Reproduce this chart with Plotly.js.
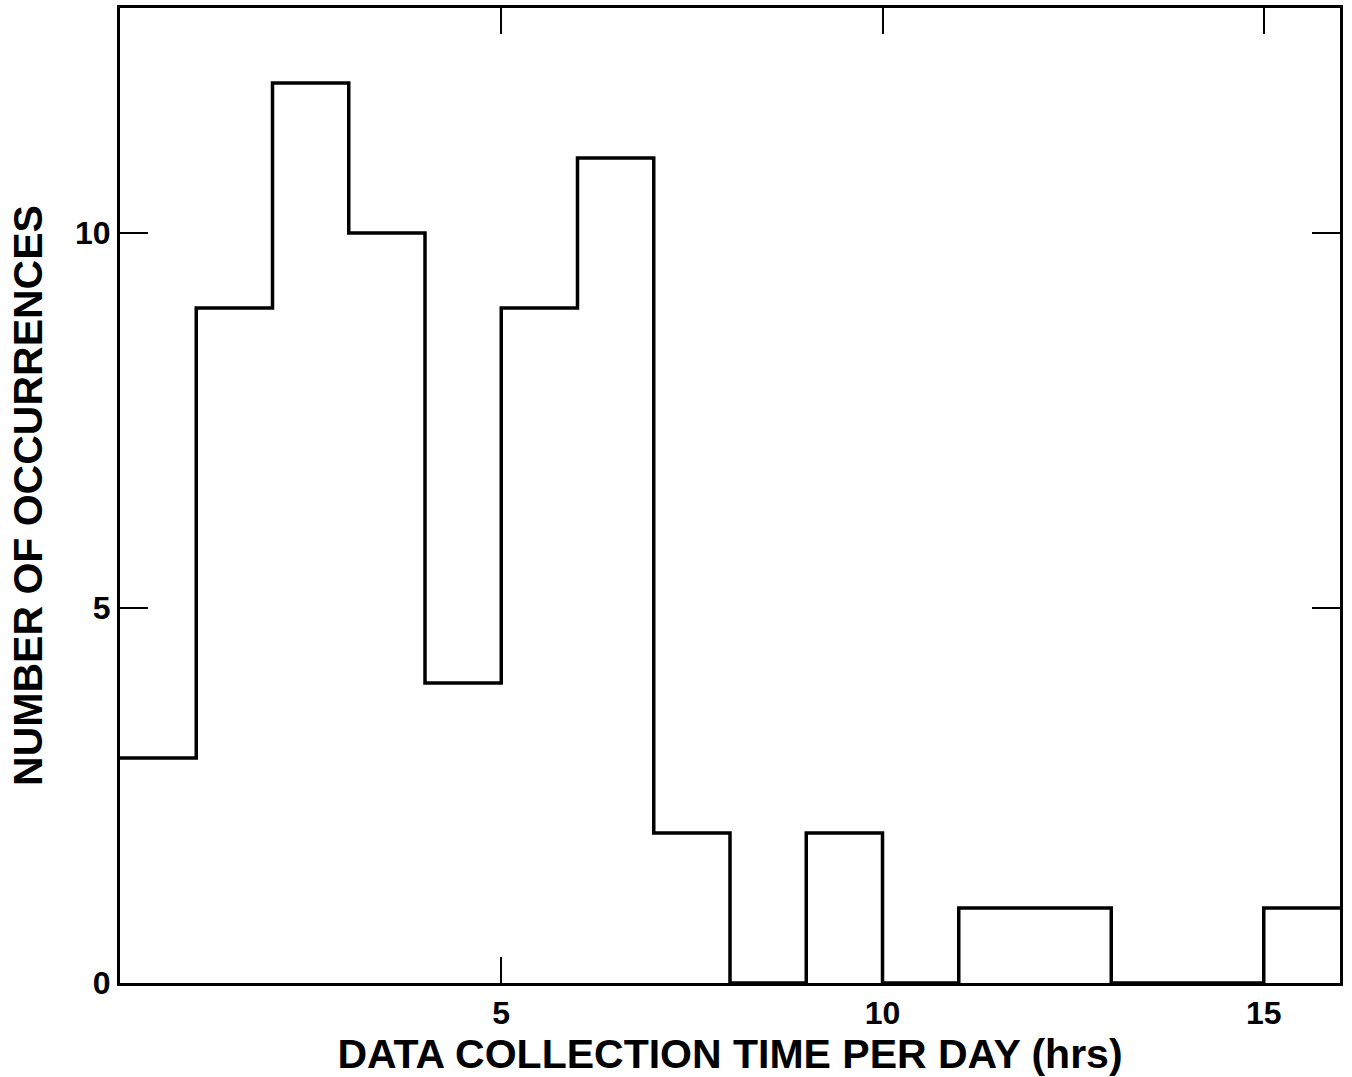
<!DOCTYPE html>
<html>
<head>
<meta charset="utf-8">
<script src="https://cdn.plot.ly/plotly-3.0.1.min.js"></script>
<style>html,body{margin:0;padding:0;background:#fff;}#chart{width:1352px;height:1077px;}</style>
</head>
<body>
<div id="chart"></div>
<script>
// Bin edges (hours) and counts per bin
const binEdges = [0, 1, 2, 3, 4, 5, 6, 7, 8, 9, 10, 11, 12, 13, 14, 15, 16];
const counts   = [3, 9, 12, 10, 4, 9, 11, 2, 0, 2, 0, 1, 1, 0, 0, 1];
const xTickVals = [5, 10, 15];
const yTickVals = [0, 5, 10];
const xTitle = 'DATA COLLECTION TIME PER DAY (hrs)';
const yTitle = 'NUMBER OF OCCURRENCES';

const stepY = counts.concat([counts[counts.length - 1]]);

const trace = {
  x: binEdges,
  y: stepY,
  type: 'scatter',
  mode: 'lines',
  line: {shape: 'hv', color: '#000', width: 3.5},
  hoverinfo: 'skip'
};

const tickFont = {size: 32, family: '"Liberation Sans", Arial, sans-serif', color: '#000'};

const layout = {
  width: 1352, height: 1077,
  margin: {l: 120, r: 12, t: 8, b: 94},
  paper_bgcolor: '#fff', plot_bgcolor: '#fff',
  showlegend: false,
  font: {family: '"Liberation Sans", Arial, sans-serif', color: '#000'},
  xaxis: {
    range: [0, 16], tickvals: xTickVals, ticktext: xTickVals.map(v => '<b>' + v + '</b>'),
    ticks: 'inside', ticklen: 26, tickwidth: 2, tickcolor: '#000',
    showline: true, linecolor: '#000', linewidth: 3, mirror: 'ticks',
    showgrid: false, zeroline: false,
    tickfont: tickFont,
    title: {text: '<b>' + xTitle + '</b>', standoff: 5,
      font: {size: 41, family: '"Liberation Sans Narrow", "Liberation Sans", Arial, sans-serif'}}
  },
  yaxis: {
    range: [0, 13], tickvals: yTickVals, ticktext: yTickVals.map(v => '<b>' + v + '</b>'),
    ticks: 'inside', ticklen: 28, tickwidth: 2, tickcolor: '#000',
    showline: true, linecolor: '#000', linewidth: 3, mirror: 'ticks',
    showgrid: false, zeroline: false,
    tickfont: tickFont,
    title: {text: '<b>' + yTitle + '</b>', standoff: 20,
      font: {size: 41, family: '"Liberation Sans", Arial, sans-serif'}}
  }
};

Plotly.newPlot('chart', [trace], layout, {staticPlot: true, displayModeBar: false});
</script>
</body>
</html>
